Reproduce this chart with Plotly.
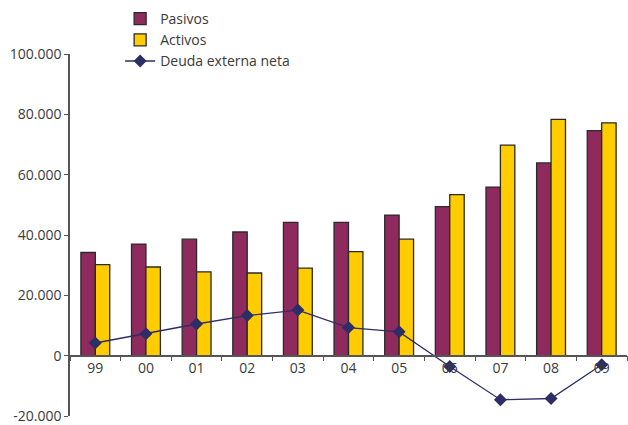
import plotly.graph_objects as go

years = ["99", "00", "01", "02", "03", "04", "05", "06", "07", "08", "09"]
pasivos = [34200, 37000, 38600, 41000, 44200, 44200, 46600, 49400, 55900, 63900, 74600]
activos = [30200, 29400, 27800, 27400, 29000, 34500, 38600, 53400, 69800, 78300, 77200]
deuda_neta = [4200, 7300, 10500, 13300, 15100, 9300, 7900, -3600, -14600, -14200, -3000]

y_ticks = [-20000, 0, 20000, 40000, 60000, 80000, 100000]
y_tick_text = ["-20.000", "0", "20.000", "40.000", "60.000", "80.000", "100.000"]

FONT = "Open Sans"
TXT = "#3a3a3a"

# plot area: y from 3 to 416 px (413 px); y axis occupies bottom 362 px (54..416)
H_AREA = 413.0
Y_TOP = 362.0 / H_AREA
X_POS = Y_TOP / 6.0  # where value 0 sits in paper coords

fig = go.Figure()
fig.add_trace(go.Bar(
    name="Pasivos", x=years, y=pasivos,
    marker=dict(color="#8e2a5e", line=dict(color="#2a2a2a", width=1.3)),
))
fig.add_trace(go.Bar(
    name="Activos", x=years, y=activos,
    marker=dict(color="#ffcc00", line=dict(color="#2a2a2a", width=1.3)),
))
fig.add_trace(go.Scatter(
    name="Deuda externa neta", x=years, y=deuda_neta, mode="lines+markers",
    line=dict(color="#2e2e66", width=1.3),
    marker=dict(symbol="diamond", size=10, color="#2e2e66"),
))

fig.update_layout(
    width=628, height=425,
    margin=dict(l=70, r=1, t=3, b=9, autoexpand=False),
    paper_bgcolor="white", plot_bgcolor="white",
    barmode="group", bargap=0.43, bargroupgap=0,
    font=dict(family=FONT, size=14, color=TXT),
    showlegend=True,
    legend=dict(
        x=0.09, y=1.0, xanchor="left", yanchor="top",
        bgcolor="rgba(0,0,0,0)", font=dict(size=14, color=TXT),
        tracegroupgap=0, itemwidth=30,
    ),
    xaxis=dict(
        type="category", anchor="free", position=X_POS,
        range=[-0.5, len(years) - 0.5],
        showline=True, linecolor="#555555", linewidth=1.5,
        ticks="outside", ticklen=5, tickcolor="#555555", tickwidth=1,
        tickson="boundaries", showgrid=False, zeroline=False,
        tickfont=dict(size=14, color=TXT), automargin=False,
    ),
    yaxis=dict(
        domain=[0, Y_TOP],
        range=[-20000, 100000], tickvals=y_ticks, ticktext=y_tick_text,
        showline=True, linecolor="#555555", linewidth=1.5,
        ticks="outside", ticklen=4, tickcolor="#555555",
        showgrid=False, zeroline=False, ticklabeloverflow="allow",
        tickfont=dict(size=14, color=TXT), automargin=False,
    ),
)

fig.write_html(
    "out.html",
    config={"displayModeBar": False},
    post_script="document.body.style.margin='0';document.body.style.overflow='hidden';",
)
